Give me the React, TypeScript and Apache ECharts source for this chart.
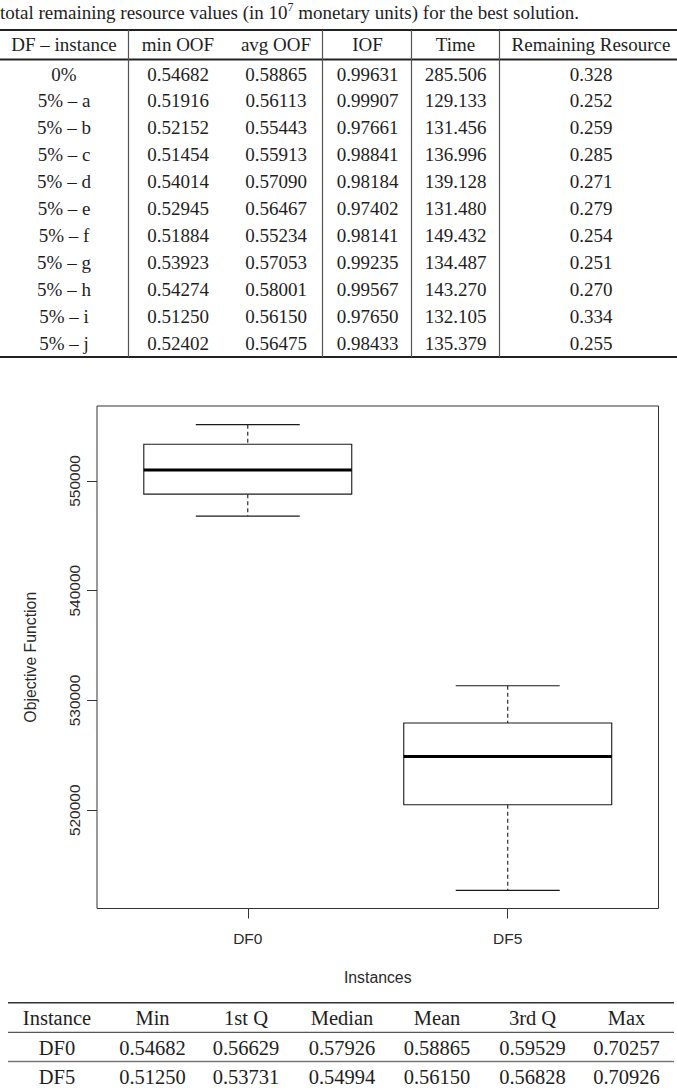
import React, { useEffect, useRef } from 'react';
import * as echarts from 'echarts';

// ---- caption above the results table ----
const captionLead = 'total remaining resource values (in 10';
const captionExp = '7';
const captionTail = ' monetary units) for the best solution.';

// ---- results table (one row per DF instance) ----
const resultHeaders = ['DF – instance', 'min OOF', 'avg OOF', 'IOF', 'Time', 'Remaining Resource'];
const dfInstances = ['0%', '5% – a', '5% – b', '5% – c', '5% – d', '5% – e', '5% – f', '5% – g', '5% – h', '5% – i', '5% – j'];
const minOOF = [0.54682, 0.51916, 0.52152, 0.51454, 0.54014, 0.52945, 0.51884, 0.53923, 0.54274, 0.5125, 0.52402];
const avgOOF = [0.58865, 0.56113, 0.55443, 0.55913, 0.5709, 0.56467, 0.55234, 0.57053, 0.58001, 0.5615, 0.56475];
const iof = [0.99631, 0.99907, 0.97661, 0.98841, 0.98184, 0.97402, 0.98141, 0.99235, 0.99567, 0.9765, 0.98433];
const timeSec = [285.506, 129.133, 131.456, 136.996, 139.128, 131.48, 149.432, 134.487, 143.27, 132.105, 135.379];
const remainingResource = [0.328, 0.252, 0.259, 0.285, 0.271, 0.279, 0.254, 0.251, 0.27, 0.334, 0.255];

// ---- box plot of the objective function ----
const instances = ['DF0', 'DF5'];
const whiskerLow = [546800, 512700];
const quartile1 = [548800, 520500];
const medians = [551000, 524900];
const quartile3 = [553350, 527950];
const whiskerHigh = [555130, 531350];
const yTicks = [520000, 530000, 540000, 550000];

// ---- summary statistics table ----
const statHeaders = ['Instance', 'Min', '1st Q', 'Median', 'Mean', '3rd Q', 'Max'];
const statInstances = ['DF0', 'DF5'];
const statMin = [0.54682, 0.5125];
const statQ1 = [0.56629, 0.53731];
const statMedian = [0.57926, 0.54994];
const statMean = [0.58865, 0.5615];
const statQ3 = [0.59529, 0.56828];
const statMax = [0.70257, 0.70926];

const SERIF = '"Liberation Serif", "Times New Roman", serif';
const SANS = '"Liberation Sans", Arial, Helvetica, sans-serif';
const INK = '#1e1e1e';

function text(x: number, y: number, s: string, fontSize: number, family = SERIF, fill = INK) {
  return {
    type: 'text',
    x,
    y,
    silent: true,
    style: {
      text: s,
      fontSize,
      fontFamily: family,
      fill,
      textAlign: 'center',
      textVerticalAlign: 'middle',
      align: 'center',
      verticalAlign: 'middle',
    },
  };
}

function rule(x1: number, y1: number, x2: number, y2: number, lineWidth: number, stroke: string) {
  return {
    type: 'line',
    silent: true,
    shape: { x1, y1, x2, y2 },
    style: { stroke, lineWidth },
  };
}

function buildTables() {
  const els: any[] = [];

  // caption with superscript exponent
  els.push({
    type: 'text',
    x: 0,
    y: 12,
    silent: true,
    style: {
      text: `{a|${captionLead}}{b|${captionExp}}{a|${captionTail}}`,
      textVerticalAlign: 'middle',
      verticalAlign: 'middle',
      rich: {
        a: { fontSize: 19, lineHeight: 22, fontFamily: SERIF, fill: INK, color: INK },
        b: { fontSize: 12, lineHeight: 14, fontFamily: SERIF, fill: INK, color: INK, verticalAlign: 'top' },
      },
    },
  });

  // results table
  const colX = [64, 178, 276, 367.5, 455.5, 591];
  const topRule = 30;
  const headRule = 59.5;
  const bottomRule = 357;
  els.push(rule(0, topRule, 677, topRule, 1.8, '#222'));
  els.push(rule(0, headRule, 677, headRule, 1.8, '#222'));
  els.push(rule(0, bottomRule, 677, bottomRule, 1.8, '#222'));
  [128.5, 322.5, 411.5, 499.5].forEach((vx) => els.push(rule(vx, topRule, vx, bottomRule, 1.2, '#555')));

  resultHeaders.forEach((h, i) => els.push(text(colX[i], 44.5, h, 19)));
  dfInstances.forEach((name, r) => {
    const y = 74 + r * 26.93;
    const cells = [
      name,
      minOOF[r].toFixed(5),
      avgOOF[r].toFixed(5),
      iof[r].toFixed(5),
      timeSec[r].toFixed(3),
      remainingResource[r].toFixed(3),
    ];
    cells.forEach((c, i) => els.push(text(colX[i], y, c, 19)));
  });

  // summary statistics table
  const sx = [57, 152.5, 246, 342, 437, 532.5, 626.5];
  els.push(rule(8, 1002.7, 674, 1002.7, 1.6, '#333'));
  els.push(rule(8, 1032.3, 674, 1032.3, 1.3, '#555'));
  els.push(rule(8, 1061.5, 674, 1061.5, 1.3, '#777'));
  statHeaders.forEach((h, i) => els.push(text(sx[i], 1017.5, h, 20.5)));
  statInstances.forEach((name, r) => {
    const y = 1048.3 + r * 29;
    const cells = [
      name,
      statMin[r].toFixed(5),
      statQ1[r].toFixed(5),
      statMedian[r].toFixed(5),
      statMean[r].toFixed(5),
      statQ3[r].toFixed(5),
      statMax[r].toFixed(5),
    ];
    cells.forEach((c, i) => els.push(text(sx[i], y, c, 20.5)));
  });

  return els;
}

export default function App() {
  const ref = useRef<HTMLDivElement>(null);

  useEffect(() => {
    if (!ref.current) return;
    const chart = echarts.init(ref.current, undefined, { renderer: 'svg' });

    const positions = instances.map((_, i) => i + 1);
    const boxData = instances.map((_, i) => [
      positions[i],
      whiskerLow[i],
      quartile1[i],
      medians[i],
      quartile3[i],
      whiskerHigh[i],
    ]);

    const axisText = { fontSize: 15.5, fontFamily: SANS, color: '#2a2a2a' };

    chart.setOption({
      animation: false,
      backgroundColor: '#ffffff',
      grid: {
        left: 97,
        top: 406,
        width: 561.5,
        height: 502.5,
        show: true,
        borderColor: '#333',
        borderWidth: 1,
        backgroundColor: 'transparent',
        containLabel: false,
        outerBoundsMode: 'none',
      },
      xAxis: {
        type: 'value',
        min: 0.42,
        max: 2.58,
        splitLine: { show: false },
        axisLine: { show: false },
        axisTick: { show: true, customValues: positions, length: 10, lineStyle: { color: '#333', width: 1 } },
        axisLabel: {
          customValues: positions,
          formatter: (v: number) => instances[Math.round(v) - 1] ?? '',
          margin: 22,
          ...axisText,
        },
        name: 'Instances',
        nameLocation: 'middle',
        nameGap: 61,
        nameTextStyle: { ...axisText, fontSize: 15.8 },
      },
      yAxis: {
        type: 'value',
        min: 511050,
        max: 556830,
        splitLine: { show: false },
        axisLine: { show: false },
        axisTick: { show: true, customValues: yTicks, length: 10, lineStyle: { color: '#333', width: 1 } },
        axisLabel: {
          customValues: yTicks,
          rotate: 90,
          margin: 15,
          formatter: (v: number) => String(v),
          ...axisText,
        },
        name: 'Objective Function',
        nameLocation: 'middle',
        nameGap: 59,
        nameTextStyle: { ...axisText, fontSize: 15.8 },
      },
      series: [
        {
          type: 'custom',
          clip: false,
          encode: { x: 0, y: [1, 2, 3, 4, 5] },
          data: boxData,
          renderItem: (_params: any, api: any) => {
            const x = api.value(0);
            const lo = api.coord([x, api.value(1)]);
            const q1 = api.coord([x, api.value(2)]);
            const md = api.coord([x, api.value(3)]);
            const q3 = api.coord([x, api.value(4)]);
            const hi = api.coord([x, api.value(5)]);
            const half = api.size([0.4, 0])[0];
            const capHalf = api.size([0.2, 0])[0];
            const cx = lo[0];
            const stroke = '#1a1a1a';
            const dash = { stroke, lineWidth: 1.1, lineDash: [4, 3] };
            const solid = { stroke, lineWidth: 1.1 };
            return {
              type: 'group',
              children: [
                { type: 'line', shape: { x1: cx, y1: hi[1], x2: cx, y2: q3[1] }, style: dash },
                { type: 'line', shape: { x1: cx, y1: q1[1], x2: cx, y2: lo[1] }, style: dash },
                { type: 'line', shape: { x1: cx - capHalf, y1: hi[1], x2: cx + capHalf, y2: hi[1] }, style: solid },
                { type: 'line', shape: { x1: cx - capHalf, y1: lo[1], x2: cx + capHalf, y2: lo[1] }, style: solid },
                {
                  type: 'rect',
                  shape: { x: cx - half, y: q3[1], width: half * 2, height: q1[1] - q3[1] },
                  style: { fill: '#ffffff', stroke, lineWidth: 1.1 },
                },
                { type: 'line', shape: { x1: cx - half, y1: md[1], x2: cx + half, y2: md[1] }, style: { stroke: '#000', lineWidth: 3 } },
              ],
            };
          },
        },
      ],
      graphic: { elements: buildTables() },
    });

    return () => chart.dispose();
  }, []);

  return (
    <div
      ref={ref}
      style={{ position: 'absolute', left: 0, top: 0, width: 677, height: 1092, background: '#fff' }}
    />
  );
}
